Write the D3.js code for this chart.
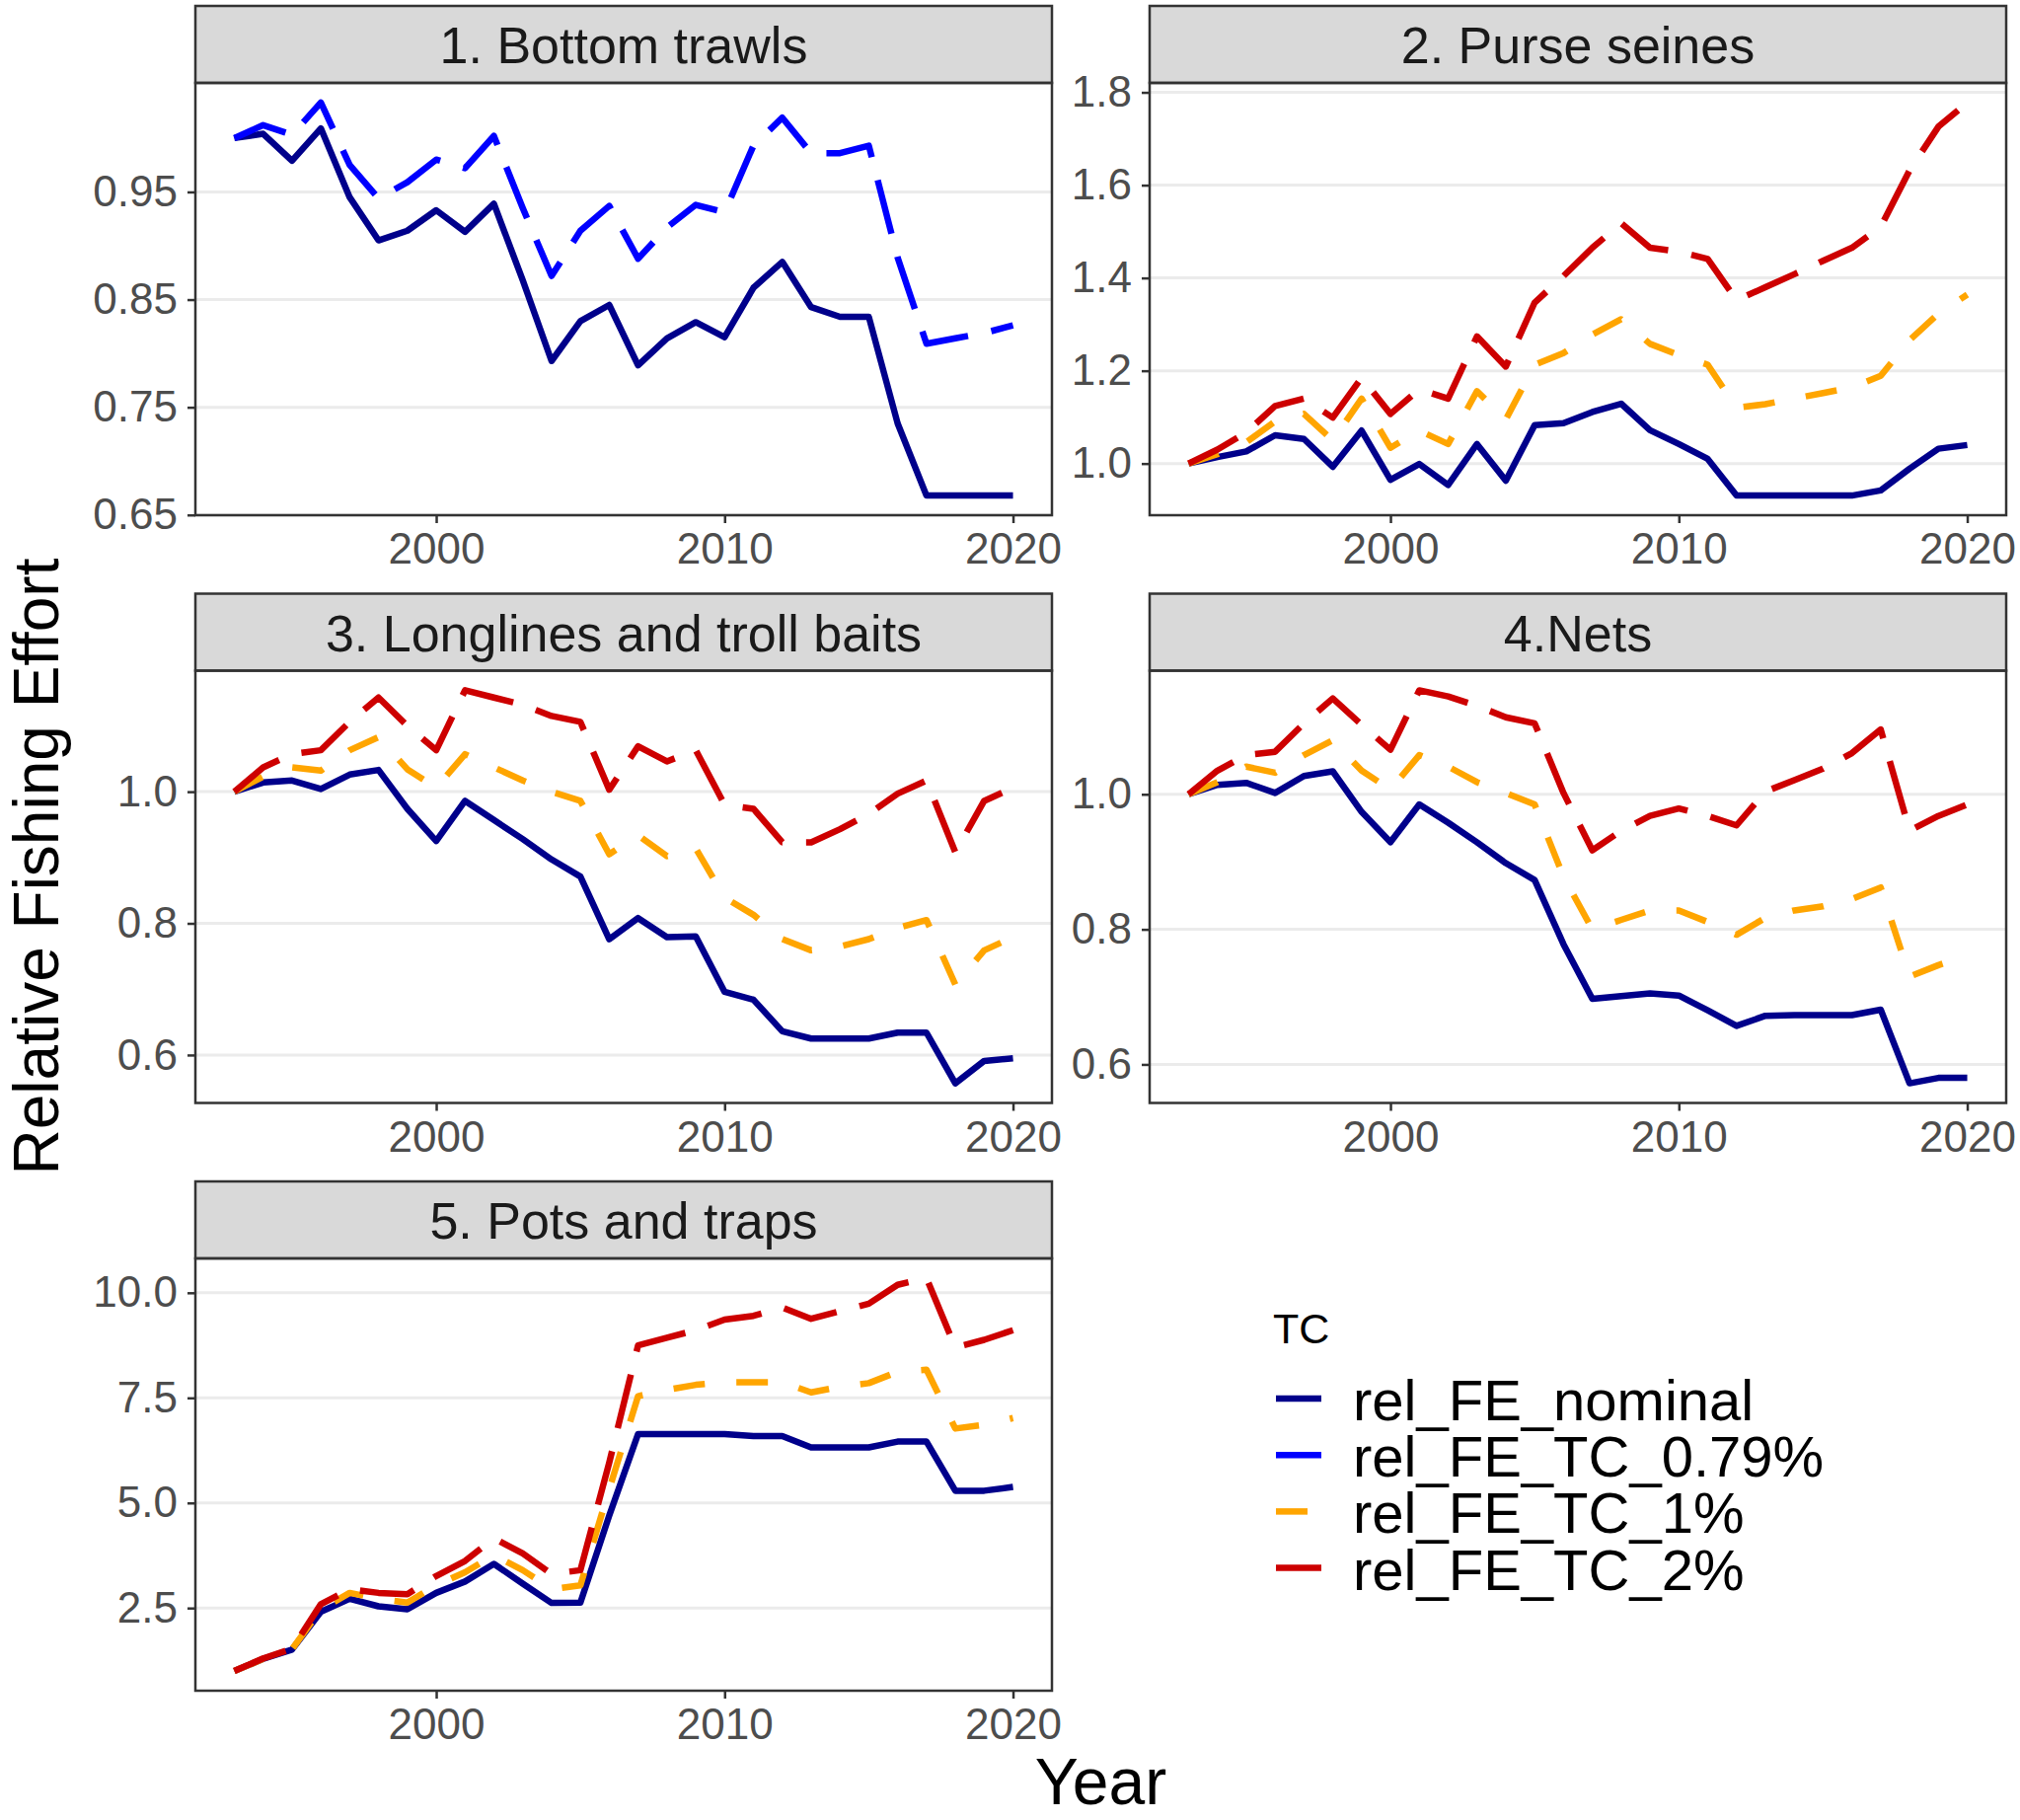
<!DOCTYPE html>
<html>
<head>
<meta charset="utf-8">
<script src="https://cdn.jsdelivr.net/npm/d3@7"></script>
<style>
	body { margin: 0; background: #fff; }
	text { font-family: "Liberation Sans", Arial, sans-serif; }
</style>
</head>
<body>
<svg id="chart" width="2047" height="1844"></svg>
<script>
const years = [1993, 1994, 1995, 1996, 1997, 1998, 1999, 2000, 2001, 2002, 2003, 2004, 2005, 2006,
	2007, 2008, 2009, 2010, 2011, 2012, 2013, 2014, 2015, 2016, 2017, 2018, 2019, 2020];

const panelTitles = ["1. Bottom trawls", "2. Purse seines", "3. Longlines and troll baits", "4.Nets", "5. Pots and traps"];
const seriesNames = ["rel_FE_nominal", "rel_FE_TC_0.79%", "rel_FE_TC_1%", "rel_FE_TC_2%"];
const xTicks = [2000, 2010, 2020];

// y tick values per panel
const yTicks1 = [0.65, 0.75, 0.85, 0.95];
const yTicks2 = [1.0, 1.2, 1.4, 1.6, 1.8];
const yTicks3 = [0.6, 0.8, 1.0];
const yTicks4 = [0.6, 0.8, 1.0];
const yTicks5 = [2.5, 5.0, 7.5, 10.0];

// 1. Bottom trawls
const trawlsNominal = [1.0, 1.004, 0.979, 1.009, 0.945, 0.905, 0.914, 0.933, 0.913, 0.939, 0.868, 0.793, 0.830, 0.845,
	0.789, 0.814, 0.829, 0.815, 0.861, 0.885, 0.843, 0.834, 0.834, 0.735, 0.668, 0.668, 0.668, 0.668];
const trawlsTC079 = [1.0, 1.012, 1.003, 1.033, 0.975, 0.944, 0.959, 0.980, 0.972, 1.002, 0.935, 0.872, 0.914, 0.937,
	0.888, 0.917, 0.938, 0.931, 0.993, 1.019, 0.986, 0.986, 0.993, 0.889, 0.809, 0.814, 0.819, 0.826];

// 2. Purse seines
const seinesNominal = [1.0, 1.014, 1.026, 1.061, 1.053, 0.993, 1.071, 0.965, 0.999, 0.954, 1.042, 0.963, 1.083, 1.087,
	1.111, 1.129, 1.072, 1.042, 1.010, 0.931, 0.931, 0.931, 0.931, 0.931, 0.942, 0.989, 1.032, 1.040];
const seinesTC1 = [1.0, 1.02, 1.046, 1.091, 1.107, 1.050, 1.140, 1.034, 1.071, 1.042, 1.156, 1.095, 1.213, 1.238,
	1.278, 1.311, 1.258, 1.234, 1.213, 1.120, 1.128, 1.140, 1.152, 1.164, 1.189, 1.266, 1.323, 1.364];
const seinesTC2 = [1.0, 1.03, 1.067, 1.124, 1.140, 1.099, 1.185, 1.107, 1.160, 1.140, 1.274, 1.209, 1.347, 1.404,
	1.465, 1.518, 1.465, 1.457, 1.441, 1.352, 1.380, 1.408, 1.437, 1.465, 1.510, 1.632, 1.726, 1.778];

// 3. Longlines and troll baits
const longlinesNominal = [1.0, 1.014, 1.017, 1.004, 1.026, 1.033, 0.974, 0.925, 0.986, 0.957, 0.928, 0.897, 0.871, 0.776,
	0.808, 0.779, 0.780, 0.696, 0.684, 0.636, 0.625, 0.625, 0.625, 0.634, 0.634, 0.557, 0.591, 0.595];
const longlinesTC1 = [1.0, 1.023, 1.037, 1.032, 1.063, 1.083, 1.034, 1.006, 1.057, 1.037, 1.017, 1.0, 0.986, 0.905,
	0.934, 0.902, 0.914, 0.839, 0.813, 0.776, 0.759, 0.765, 0.776, 0.793, 0.805, 0.707, 0.759, 0.779];
const longlinesTC2 = [1.0, 1.037, 1.057, 1.063, 1.106, 1.143, 1.100, 1.063, 1.154, 1.143, 1.132, 1.115, 1.106, 1.003,
	1.069, 1.046, 1.063, 0.980, 0.974, 0.923, 0.923, 0.943, 0.966, 0.997, 1.017, 0.908, 0.986, 1.006];

// 4. Nets
const netsNominal = [1.0, 1.014, 1.017, 1.002, 1.027, 1.034, 0.974, 0.929, 0.985, 0.958, 0.929, 0.898, 0.873, 0.778,
	0.697, 0.701, 0.705, 0.702, 0.680, 0.657, 0.672, 0.673, 0.673, 0.673, 0.681, 0.572, 0.580, 0.580];
const netsTC1 = [1.0, 1.018, 1.041, 1.032, 1.058, 1.080, 1.035, 1.007, 1.058, 1.041, 1.018, 1.002, 0.985, 0.878,
	0.800, 0.814, 0.828, 0.828, 0.811, 0.792, 0.817, 0.828, 0.834, 0.845, 0.862, 0.730, 0.747, 0.761];
const netsTC2 = [1.0, 1.035, 1.058, 1.063, 1.105, 1.142, 1.103, 1.066, 1.154, 1.145, 1.131, 1.114, 1.105, 1.002,
	0.917, 0.946, 0.968, 0.979, 0.968, 0.954, 1.004, 1.021, 1.038, 1.061, 1.096, 0.946, 0.968, 0.985];

// 5. Pots and traps
const potsNominal = [1.0, 1.29, 1.51, 2.41, 2.72, 2.54, 2.47, 2.86, 3.13, 3.55, 3.08, 2.62, 2.63, 4.70,
	6.64, 6.64, 6.64, 6.64, 6.59, 6.59, 6.32, 6.32, 6.32, 6.46, 6.46, 5.29, 5.29, 5.38];
const potsTC1 = [1.0, 1.29, 1.52, 2.46, 2.86, 2.72, 2.63, 3.04, 3.35, 3.76, 3.40, 2.95, 3.04, 5.33,
	7.54, 7.69, 7.81, 7.87, 7.87, 7.87, 7.63, 7.76, 7.85, 8.12, 8.17, 6.77, 6.86, 7.02];
const potsTC2 = [1.0, 1.30, 1.53, 2.59, 2.95, 2.86, 2.83, 3.26, 3.62, 4.16, 3.80, 3.31, 3.40, 5.96,
	8.75, 8.93, 9.11, 9.36, 9.45, 9.65, 9.38, 9.56, 9.74, 10.19, 10.35, 8.70, 8.88, 9.11];

// line look per series
const colors = { "rel_FE_nominal": "#00008B", "rel_FE_TC_0.79%": "#0000FF", "rel_FE_TC_1%": "#FFA500", "rel_FE_TC_2%": "#CD0000" };
const dashes = { "rel_FE_nominal": null, "rel_FE_TC_0.79%": "56,24", "rel_FE_TC_1%": "32,32", "rel_FE_TC_2%": "56,24" };

const panels = [
	{ title: panelTitles[0], ticks: yTicks1, fmt: ".2f", col: 0, row: 0,
		series: [["rel_FE_nominal", trawlsNominal], ["rel_FE_TC_0.79%", trawlsTC079]] },
	{ title: panelTitles[1], ticks: yTicks2, fmt: ".1f", col: 1, row: 0,
		series: [["rel_FE_nominal", seinesNominal], ["rel_FE_TC_1%", seinesTC1], ["rel_FE_TC_2%", seinesTC2]] },
	{ title: panelTitles[2], ticks: yTicks3, fmt: ".1f", col: 0, row: 1,
		series: [["rel_FE_nominal", longlinesNominal], ["rel_FE_TC_1%", longlinesTC1], ["rel_FE_TC_2%", longlinesTC2]] },
	{ title: panelTitles[3], ticks: yTicks4, fmt: ".1f", col: 1, row: 1,
		series: [["rel_FE_nominal", netsNominal], ["rel_FE_TC_1%", netsTC1], ["rel_FE_TC_2%", netsTC2]] },
	{ title: panelTitles[4], ticks: yTicks5, fmt: ".1f", col: 0, row: 2,
		series: [["rel_FE_nominal", potsNominal], ["rel_FE_TC_1%", potsTC1], ["rel_FE_TC_2%", potsTC2]] }
];

const svg = d3.select("#chart");

const colLeft = [198, 1165],
	rowTop = [6, 601.5, 1197],
	panelW = 868,
	stripH = 78,
	plotH = 438;

const tickColor = "#333333",
	labelColor = "#4D4D4D";

// ggplot style 5% expansion on both sides
function expand(lo, hi) {
	const pad = (hi - lo) * 0.05;
	return [lo - pad, hi + pad];
}

panels.forEach(p => {
	const left = colLeft[p.col],
		top = rowTop[p.row],
		plotTop = top + stripH,
		plotBottom = plotTop + plotH;

	const g = svg.append("g");

	const x = d3.scaleLinear()
		.domain(expand(years[0], years[years.length - 1]))
		.range([left, left + panelW]);

	const allVals = p.series.flatMap(s => s[1]);
	const y = d3.scaleLinear()
		.domain(expand(d3.min(allVals), d3.max(allVals)))
		.range([plotBottom, plotTop]);

	// strip
	g.append("rect")
		.attr("x", left).attr("y", top)
		.attr("width", panelW).attr("height", stripH)
		.attr("fill", "#D9D9D9")
		.attr("stroke", tickColor).attr("stroke-width", 2.5);
	g.append("text")
		.attr("x", left + panelW / 2)
		.attr("y", top + stripH / 2 + 19)
		.attr("text-anchor", "middle")
		.attr("font-size", 52)
		.attr("fill", "#1A1A1A")
		.text(p.title);

	// horizontal grid lines
	g.append("g").selectAll("line")
		.data(p.ticks)
		.enter().append("line")
		.attr("x1", left).attr("x2", left + panelW)
		.attr("y1", d => y(d)).attr("y2", d => y(d))
		.attr("stroke", "#EBEBEB").attr("stroke-width", 3);

	// series lines
	const line = d3.line()
		.x((d, i) => x(years[i]))
		.y(d => y(d));

	g.append("g").selectAll("path")
		.data(p.series)
		.enter().append("path")
		.attr("d", d => line(d[1]))
		.attr("fill", "none")
		.attr("stroke", d => colors[d[0]])
		.attr("stroke-width", 6.5)
		.attr("stroke-linejoin", "round")
		.attr("stroke-dasharray", d => dashes[d[0]]);

	// axes
	const yAxis = d3.axisLeft(y)
		.tickValues(p.ticks)
		.tickFormat(d3.format(p.fmt))
		.tickSize(8)
		.tickPadding(10);
	const xAxis = d3.axisBottom(x)
		.tickValues(xTicks)
		.tickFormat(d3.format("d"))
		.tickSize(8)
		.tickPadding(8);

	const ya = g.append("g")
		.attr("transform", `translate(${left},0)`)
		.call(yAxis);
	const xa = g.append("g")
		.attr("transform", `translate(0,${plotBottom})`)
		.call(xAxis);

	[ya, xa].forEach(a => {
		a.select(".domain").remove();
		a.selectAll(".tick line").attr("stroke", tickColor).attr("stroke-width", 2.5);
		a.selectAll(".tick text")
			.attr("font-size", 44)
			.attr("font-family", "Liberation Sans, Arial, sans-serif")
			.attr("fill", labelColor);
	});
	xa.selectAll(".tick text").attr("dy", "0.76em");

	// panel border
	g.append("rect")
		.attr("x", left).attr("y", plotTop)
		.attr("width", panelW).attr("height", plotH)
		.attr("fill", "none")
		.attr("stroke", tickColor).attr("stroke-width", 2.5);
});

// axis titles
svg.append("text")
	.attr("x", colLeft[0] + (colLeft[1] + panelW - colLeft[0]) / 2)
	.attr("y", 1828)
	.attr("text-anchor", "middle")
	.attr("font-size", 66)
	.text("Year");

svg.append("text")
	.attr("transform", "translate(59,878) rotate(-90)")
	.attr("text-anchor", "middle")
	.attr("font-size", 64)
	.text("Relative Fishing Effort");

// legend
const legend = svg.append("g").attr("transform", "translate(1293,1361)");

legend.append("text")
	.attr("x", -3).attr("y", 0)
	.attr("font-size", 43)
	.text("TC");

const item = legend.selectAll(".item")
	.data(seriesNames)
	.enter().append("g")
	.attr("class", "item")
	.attr("transform", (d, i) => `translate(0,${56 + i * 57.2})`);

item.append("line")
	.attr("x1", 0).attr("x2", 46)
	.attr("y1", 0).attr("y2", 0)
	.attr("stroke", d => colors[d])
	.attr("stroke-width", 6.5)
	.attr("stroke-dasharray", d => dashes[d]);

item.append("text")
	.attr("x", 78).attr("y", 22)
	.attr("font-size", 58)
	.text(d => d);
</script>
</body>
</html>
